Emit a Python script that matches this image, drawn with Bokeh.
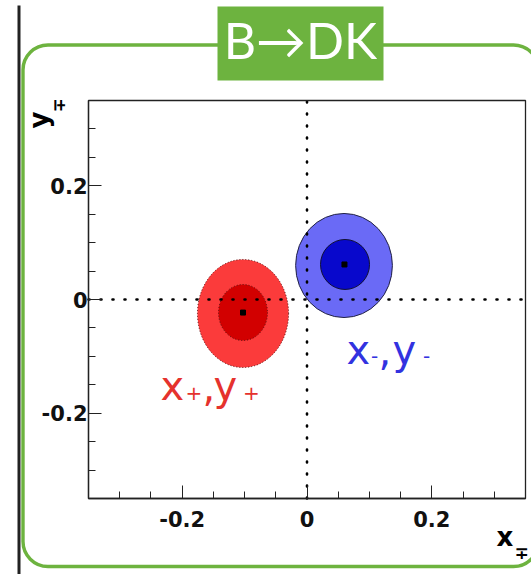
import math
from bokeh.plotting import figure
from bokeh.models import Range1d, FixedTicker, Label, BoxAnnotation
from bokeh.embed import file_html
from bokeh.resources import INLINE

# ---------------- data ----------------
x_limits = (-0.35, 0.35)
y_limits = (-0.35, 0.35)
major_ticks = [-0.2, 0.0, 0.2]
major_labels = ["-0.2", "0", "0.2"]
minor_ticks = [-0.3, -0.25, -0.15, -0.1, -0.05, 0.05, 0.1, 0.15, 0.25, 0.3]

# contours (outer, inner) for (x+, y+)
plus_x = [-0.1025, -0.1025]
plus_y = [-0.0246, -0.0229]
plus_w = [0.146, 0.0785]
plus_h = [0.190, 0.0985]
# contours (outer, inner) for (x-, y-)
minus_x = [0.0593, 0.0609]
minus_y = [0.0598, 0.0616]
minus_w = [0.155, 0.0785]
minus_h = [0.183, 0.088]
# best fit points
best_x = [-0.1025, 0.060]
best_y = [-0.023, 0.0616]

title_text = "B\u2192DK"

# ---------------- layout (pixels) ----------------
W, H = 531, 574
FL, FR, FT, FB = 88, 525, 100, 498          # data window on the canvas
xs = (x_limits[1] - x_limits[0]) / (FR - FL)
ys = (y_limits[1] - y_limits[0]) / (FB - FT)
xr = Range1d(x_limits[0] - FL * xs, x_limits[1] + (W - FR) * xs)
yr = Range1d(y_limits[0] - (H - FB) * ys, y_limits[1] + FT * ys)

p = figure(width=W, height=H, x_range=xr, y_range=yr,
           output_backend="svg", toolbar_location=None,
           min_border_left=0, min_border_right=0,
           min_border_top=0, min_border_bottom=0)
p.grid.visible = False
p.outline_line_color = None
p.background_fill_color = "white"
p.border_fill_color = "white"

p.xaxis.fixed_location = y_limits[0]
p.xaxis.bounds = x_limits
p.yaxis.fixed_location = x_limits[0]
p.yaxis.bounds = y_limits

for ax in (p.xaxis[0], p.yaxis[0]):
    ax.ticker = FixedTicker(ticks=major_ticks, minor_ticks=minor_ticks)
    ax.major_label_overrides = {t: l for t, l in zip(major_ticks, major_labels)}
    ax.major_tick_in = 13
    ax.major_tick_out = 0
    ax.minor_tick_in = 7
    ax.minor_tick_out = 0
    ax.major_tick_line_color = "#222222"
    ax.minor_tick_line_color = "#222222"
    ax.axis_line_color = "#222222"
    ax.axis_line_width = 1.3
    ax.major_label_text_font = "DejaVu Sans"
    ax.major_label_text_font_style = "bold"
    ax.major_label_text_font_size = "21px"
    ax.major_label_text_color = "#111111"
p.xaxis.major_label_standoff = 12
p.yaxis.major_label_standoff = 1

# decorations under everything (screen units: x from left, y from bottom)
def box(l, r, t, b, units="screen", **kw):
    return BoxAnnotation(left=l, right=r, top=t, bottom=b,
                         left_units=units, right_units=units,
                         top_units=units, bottom_units=units, **kw)

p.add_layout(box(22.5, 538, 529.5, 8, fill_alpha=0, line_color="#6db33f",
                 line_alpha=1, line_width=3.4, border_radius=25, level="underlay"))
p.add_layout(box(17, 20, 569, -5, fill_color="#222222", fill_alpha=1,
                 line_alpha=0, level="underlay"))

# contours
p.ellipse(x=plus_x[0], y=plus_y[0], width=plus_w[0], height=plus_h[0],
          fill_color="#fb3b3b", line_color="#551111", line_width=1, line_dash="1 2")
p.ellipse(x=plus_x[1], y=plus_y[1], width=plus_w[1], height=plus_h[1],
          fill_color="#d20000", line_color="#551111", line_width=1, line_dash="1 2")
p.ellipse(x=minus_x[0], y=minus_y[0], width=minus_w[0], height=minus_h[0],
          fill_color="#6a6af6", line_color="#222244", line_width=1)
p.ellipse(x=minus_x[1], y=minus_y[1], width=minus_w[1], height=minus_h[1],
          fill_color="#0808cc", line_color="#111133", line_width=1)

# dotted zero lines across the data window
p.segment(x0=[0, x_limits[0]], y0=[y_limits[0], 0], x1=[0, x_limits[1]], y1=[y_limits[1], 0],
          line_color="black", line_width=2.6, line_dash="1 11", line_cap="round")
p.scatter(x=best_x, y=best_y, marker="square", size=5, color="black")

# frame outline of the data window
p.add_layout(box(x_limits[0], x_limits[1], y_limits[1], y_limits[0], units="data",
                 fill_alpha=0, line_color="#222222", line_alpha=1, line_width=1.3,
                 level="annotation"))

# title box
p.add_layout(box(217, 383, 568, 494, fill_color="#6db33f", fill_alpha=1,
                 line_alpha=0, level="annotation"))

def lab(txt, x, y, size, color="black", font="DejaVu Sans", style="normal",
        align="left", angle=0):
    p.add_layout(Label(x=x, y=y, x_units="screen", y_units="screen", text=txt,
                       text_font=font, text_font_size=f"{size}px",
                       text_font_style=style, text_color=color, text_align=align,
                       text_baseline="alphabetic", angle=angle))

lab(title_text, 300, 535, 50, color="white", font="Lato", align="center")

# axis titles
lab("x", 496, 38, 26, style="bold")
lab("\u2213", 514, 22, 17, style="bold")
lab("y", 38, 446, 26, style="bold", angle=math.pi / 2)
lab("\u2213", 58, 462, 17, style="bold", angle=math.pi / 2)

# series labels
red = "#e5322d"
lab("x", 160, 189, 40, color=red)
lab("+", 193.5, 182, 20, color=red, align="center")
lab(",", 202, 189, 40, color=red)
lab("y", 213, 189, 40, color=red)
lab("+", 251, 182, 20, color=red, align="center")

blue = "#3232e0"
lab("x", 346, 225, 40, color=blue)
lab("-", 374, 219, 20, color=blue, align="center")
lab(",", 378, 225, 40, color=blue)
lab("y", 392, 225, 40, color=blue)
lab("-", 426, 219, 20, color=blue, align="center")

open("out.html", "w").write(file_html(p, INLINE))
